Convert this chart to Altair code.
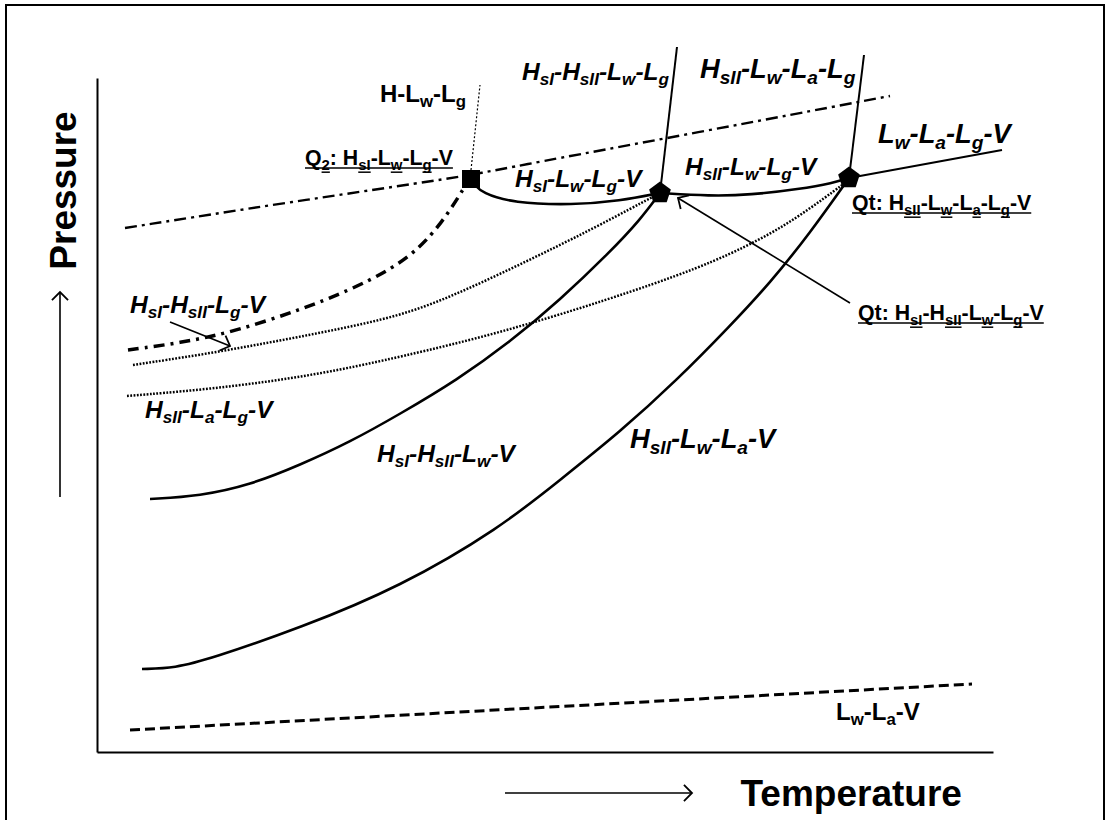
import math
import re
import altair as alt
import pandas as pd

# ---------------- data (schematic values) ----------------
# Temperature (T) and pressure (P) coordinates of the schematic diagram
# (pressure axis is drawn top-down: smaller P value = higher on the page)

# Lw-La-V (dashed)
lw_la_v_T = [130, 972]
lw_la_v_P = [730, 684]

# Hsll-Lw-La-V boundary (lower solid curve)
hsii_lw_la_v_T = [142, 175, 210, 300, 400, 500, 560, 620, 677, 730, 770, 810, 849]
hsii_lw_la_v_P = [669, 668, 659, 628, 587, 528, 480, 432, 380, 326, 283, 233, 178]

# Hsl-Hsll-Lw-V boundary (upper solid curve)
hsi_hsii_lw_v_T = [150, 200, 250, 300, 350, 400, 457, 510, 560, 610, 640, 660]
hsi_hsii_lw_v_P = [499, 496, 485, 465, 442, 414, 380, 342, 300, 252, 220, 193]

# Q2 -> Qt(1) solid curve (Hsl-Lw-Lg-V)
q2_qt1_T = [474, 482, 513, 573, 620, 660]
q2_qt1_P = [184, 193, 203, 205, 201, 193]

# Qt(1) -> Qt(2) solid curve (Hsll-Lw-Lg-V)
qt1_qt2_T = [660, 710, 750, 800, 833, 849]
qt1_qt2_P = [193, 196, 195, 189, 183, 178]

# Hsl-Hsll-Lg-V (upper dotted)
hsi_hsii_lg_v_T = [133, 200, 267, 330, 400, 450, 500, 550, 600, 660]
hsi_hsii_lg_v_P = [365, 355, 343, 331, 316, 297, 274, 250, 225, 193]

# Hsll-La-Lg-V (lower dotted)
hsii_la_lg_v_T = [127, 200, 267, 330, 400, 500, 607, 700, 760, 800, 849]
hsii_la_lg_v_P = [396, 390, 382, 372, 357, 333, 300, 268, 240, 216, 180]

# dash-dot curve ending at Q2
dd_curve_T = [128, 180, 233, 300, 350, 390, 420, 442, 458, 468]
dd_curve_P = [350, 343, 332, 310, 290, 270, 248, 222, 198, 181]

# long dash-dot line through Q2
dd_line_T = [125, 290, 468, 500, 700, 890]
dd_line_P = [228, 202, 176, 169, 132, 96]

# straight solid boundaries (from point -> to point)
seg_T0 = [849, 660, 849]
seg_P0 = [178, 193, 178]
seg_T1 = [1002, 677, 864]
seg_P1 = [150, 47, 55]

# H-Lw-Lg (thin dotted)
h_lw_lg_T = [471, 480]
h_lw_lg_P = [170, 85]

# invariant points
q2_T, q2_P = [471], [179]
qt_T, qt_P = [660, 849], [193, 178]

# arrows (from -> to)
arrow_T0 = [850, 170, 60, 505]
arrow_P0 = [303, 322, 497, 793]
arrow_T1 = [678, 230, 60, 692]
arrow_P1 = [198, 346, 292, 793]

# frame
frame_T = [6, 1104]
frame_P = [5, 830]

# region labels (italic), anchor = left end of baseline
region_labels = [
    "H_{sI}-H_{sII}-L_{w}-L_{g}",
    "H_{sII}-L_{w}-L_{a}-L_{g}",
    "H_{sI}-L_{w}-L_{g}-V",
    "H_{sII}-L_{w}-L_{g}-V",
    "L_{w}-L_{a}-L_{g}-V",
    "H_{sI}-H_{sII}-L_{g}-V",
    "H_{sII}-L_{a}-L_{g}-V",
    "H_{sI}-H_{sII}-L_{w}-V",
    "H_{sII}-L_{w}-L_{a}-V",
]
region_label_T = [522, 700, 515, 685, 878, 130, 145, 377, 630]
region_label_P = [80, 78, 187, 175, 143, 313, 418, 462, 448]

# plain labels
plain_labels = ["H-L_{w}-L_{g}", "L_{w}-L_{a}-V"]
plain_label_T = [380, 836]
plain_label_P = [102, 720]

# invariant point notes (underlined)
note_labels = [
    "Q_{2}: H_{sI}-L_{w}-L_{g}-V",
    "Qt: H_{sII}-L_{w}-L_{a}-L_{g}-V",
    "Qt: H_{sI}-H_{sII}-L_{w}-L_{g}-V",
]
note_label_T = [305, 852, 858]
note_label_P = [165, 210, 320]

# ---------------- styles ----------------
FONT = "Liberation Sans"
ADV = {'H': 722, 'L': 611, 'V': 667, 'Q': 778, 'T': 611, 'P': 667, 't': 333,
       's': 556, 'w': 778, 'g': 611, 'a': 556, 'e': 556, 'm': 889, 'p': 611,
       'r': 389, 'u': 611, 'I': 278, '2': 556, ':': 333, ' ': 278, '-': 333}
SUB = 0.7
SHIFT = 0.22
FS_REGION = 24.5
FS_REGION_BIG = 27.3
BIG = {"H_{sII}-L_{w}-L_{a}-L_{g}", "L_{w}-L_{a}-L_{g}-V", "H_{sII}-L_{w}-L_{a}-V"}
FS_PLAIN = 24
FS_NOTE = 21.3
PENT = "M0,-1L0.951,-0.309L0.588,0.809L-0.588,0.809L-0.951,-0.309Z"
CHEVRON = "M-1,1L0,0L1,1"


def parse(label):
    out = []
    for m in re.finditer(r"_\{([^}]*)\}|([^_]+)", label):
        if m.group(1) is not None:
            out.append((m.group(1), True))
        else:
            out.append((m.group(2), False))
    return out


def layout(label, x0, y0, fs, rows, unders, underline):
    x = x0
    for txt, sub in parse(label):
        size = fs * SUB if sub else fs
        y = y0 + fs * SHIFT if sub else y0
        w = sum(ADV.get(c, 556) for c in txt) * size / 1000.0
        rows.append({"x": x, "y": y, "text": txt, "fs": size})
        if underline and sub:
            unders.append({"x": x, "x2": x + w, "y": y + 2.5})
        x += w
    if underline:
        unders.append({"x": x0, "x2": x, "y": y0 + 3})


italic_rows, plain_rows, unders = [], [], []
for lab, t, p in zip(region_labels, region_label_T, region_label_P):
    layout(lab, t, p, FS_REGION_BIG if lab in BIG else FS_REGION, italic_rows, unders, False)
for lab, t, p in zip(plain_labels, plain_label_T, plain_label_P):
    layout(lab, t, p, FS_PLAIN, plain_rows, unders, False)
for lab, t, p in zip(note_labels, note_label_T, note_label_P):
    layout(lab, t, p, FS_NOTE, plain_rows, unders, True)


def curves_df(curves):
    rows = []
    for name, (ts, ps) in curves.items():
        for i, (a, b) in enumerate(zip(ts, ps)):
            rows.append({"id": name, "x": a, "y": b, "i": i})
    return pd.DataFrame(rows)


solid_df = curves_df({
    "hsii_lw_la_v": (hsii_lw_la_v_T, hsii_lw_la_v_P),
    "hsi_hsii_lw_v": (hsi_hsii_lw_v_T, hsi_hsii_lw_v_P),
    "q2_qt1": (q2_qt1_T, q2_qt1_P),
    "qt1_qt2": (qt1_qt2_T, qt1_qt2_P),
})
dotted_df = curves_df({
    "hsi_hsii_lg_v": (hsi_hsii_lg_v_T, hsi_hsii_lg_v_P),
    "hsii_la_lg_v": (hsii_la_lg_v_T, hsii_la_lg_v_P),
})
dashed_df = curves_df({"lw_la_v": (lw_la_v_T, lw_la_v_P)})
ddc_df = curves_df({"ddc": (dd_curve_T, dd_curve_P)})
ddl_df = curves_df({"ddl": (dd_line_T, dd_line_P)})

seg_df = pd.DataFrame({"x": seg_T0, "y": seg_P0, "x2": seg_T1, "y2": seg_P1})
hlwlg_df = pd.DataFrame({"x": [h_lw_lg_T[0]], "y": [h_lw_lg_P[0]],
                         "x2": [h_lw_lg_T[1]], "y2": [h_lw_lg_P[1]]})
arrow_df = pd.DataFrame({"x": arrow_T0, "y": arrow_P0, "x2": arrow_T1, "y2": arrow_P1})
arrow_df["ang"] = [
    (math.degrees(math.atan2(x1 - x0, -(y1 - y0))) + 360) % 360
    for x0, y0, x1, y1 in zip(arrow_T0, arrow_P0, arrow_T1, arrow_P1)
]
frame_df = pd.DataFrame({"x": [frame_T[0]], "x2": [frame_T[1]],
                         "y": [frame_P[0]], "y2": [frame_P[1]]})
q2_df = pd.DataFrame({"x": q2_T, "y": q2_P})
qt_df = pd.DataFrame({"x": qt_T, "y": qt_P})
italic_df = pd.DataFrame(italic_rows)
plain_df = pd.DataFrame(plain_rows)
under_df = pd.DataFrame(unders)

# ---------------- chart ----------------
xs = alt.Scale(domain=[97, 993], nice=False, zero=False)
ys = alt.Scale(domain=[78, 752], nice=False, zero=False, reverse=True)
ax_x = alt.Axis(title="Temperature", domain=True, domainColor="black", domainWidth=2,
                ticks=False, labels=False, grid=False, titleFont=FONT, titleFontSize=37,
                titleFontWeight="bold", titleColor="black", titleX=643, titleY=53,
                titleAlign="left", titleBaseline="alphabetic", titleAngle=0)
ax_y = alt.Axis(title="Pressure", domain=True, domainColor="black", domainWidth=2,
                ticks=False, labels=False, grid=False, titleFont=FONT, titleFontSize=37,
                titleFontWeight="bold", titleColor="black", titleX=-22, titleY=112,
                titleAlign="center", titleBaseline="alphabetic", titleAngle=270)


def X():
    return alt.X("x:Q", scale=xs, axis=ax_x)


def Y():
    return alt.Y("y:Q", scale=ys, axis=ax_y)


frame = alt.Chart(frame_df).mark_rect(filled=False, stroke="black", strokeWidth=2).encode(
    x=X(), x2="x2:Q", y=Y(), y2="y2:Q")

dashed = alt.Chart(dashed_df).mark_line(color="black", strokeWidth=3, strokeDash=[10, 5]).encode(
    x=X(), y=Y(), detail="id:N", order="i:Q")

solid = alt.Chart(solid_df).mark_line(color="black", strokeWidth=2.6, interpolate="basis").encode(
    x=X(), y=Y(), detail="id:N", order="i:Q")

segs = alt.Chart(seg_df).mark_rule(color="black", strokeWidth=2).encode(
    x=X(), y=Y(), x2="x2:Q", y2="y2:Q")

dotted = alt.Chart(dotted_df).mark_line(color="black", strokeWidth=2.5, strokeDash=[1.8, 1.5],
                                         interpolate="basis").encode(
    x=X(), y=Y(), detail="id:N", order="i:Q")

ddc = alt.Chart(ddc_df).mark_line(color="black", strokeWidth=3.5, strokeDash=[11, 6, 3, 6],
                                  interpolate="basis").encode(
    x=X(), y=Y(), detail="id:N", order="i:Q")

ddl = alt.Chart(ddl_df).mark_line(color="black", strokeWidth=2.4, strokeDash=[12, 5, 3, 5],
                                  interpolate="basis").encode(
    x=X(), y=Y(), detail="id:N", order="i:Q")

hlwlg = alt.Chart(hlwlg_df).mark_rule(color="black", strokeWidth=1.2, strokeDash=[2, 2]).encode(
    x=X(), y=Y(), x2="x2:Q", y2="y2:Q")

shafts = alt.Chart(arrow_df).mark_rule(color="black", strokeWidth=1.6).encode(
    x=X(), y=Y(), x2="x2:Q", y2="y2:Q")

heads = alt.Chart(arrow_df).mark_point(shape=CHEVRON, filled=False, color="black", strokeWidth=1.8,
                                       size=260, opacity=1).encode(
    x=alt.X("x2:Q", scale=xs, axis=ax_x), y=alt.Y("y2:Q", scale=ys, axis=ax_y),
    angle=alt.Angle("ang:Q", scale=None))

q2m = alt.Chart(q2_df).mark_point(shape="square", filled=True, color="black", size=324, opacity=1).encode(
    x=X(), y=Y())

qtm = alt.Chart(qt_df).mark_point(shape=PENT, filled=True, color="black", size=520, opacity=1).encode(
    x=X(), y=Y())

italic_txt = alt.Chart(italic_df).mark_text(font=FONT, fontWeight="bold", fontStyle="italic",
                                            align="left", baseline="alphabetic", color="black").encode(
    x=X(), y=Y(), text="text:N", size=alt.Size("fs:Q", scale=None))

plain_txt = alt.Chart(plain_df).mark_text(font=FONT, fontWeight="bold",
                                          align="left", baseline="alphabetic", color="black").encode(
    x=X(), y=Y(), text="text:N", size=alt.Size("fs:Q", scale=None))

under = alt.Chart(under_df).mark_rule(color="black", strokeWidth=1.5).encode(
    x=X(), x2="x2:Q", y=Y())

chart = alt.layer(
    frame, dashed, solid, segs, dotted, ddc, ddl, hlwlg, shafts, heads, q2m, qtm,
    italic_txt, plain_txt, under
).properties(
    width=896, height=674,
    padding={"left": 97, "top": 78, "right": 113, "bottom": 68},
    autosize=alt.AutoSizeParams(type="none"),
    background="white",
).configure_view(stroke="transparent")

chart.save("out.html", embed_options={"renderer": "svg", "actions": False})
